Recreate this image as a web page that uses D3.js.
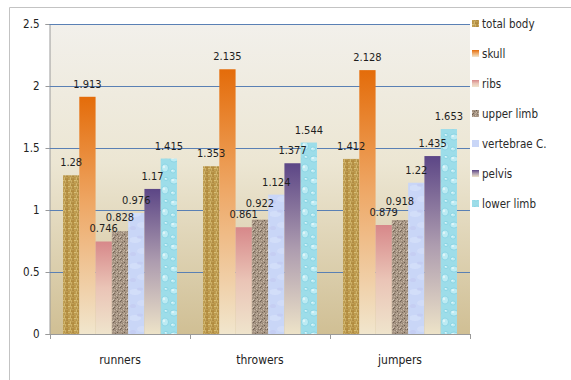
<!DOCTYPE html>
<html>
<head>
<meta charset="utf-8">
<script src="https://cdn.jsdelivr.net/npm/d3@7"></script>
<style>
  html, body { margin: 0; padding: 0; background: #ffffff; }
  svg { display: block; font-family: "DejaVu Sans Condensed", "DejaVu Sans", sans-serif; font-stretch: condensed; }
</style>
</head>
<body>
<svg id="chart" width="571" height="380"></svg>
<script>
// Bone mineral density by athlete group
const categories = ["runners", "throwers", "jumpers"];
const seriesNames = ["total body", "skull", "ribs", "upper limb", "vertebrae C.", "pelvis", "lower limb"];
const runnersValues  = [1.28, 1.913, 0.746, 0.828, 0.976, 1.17, 1.415];
const throwersValues = [1.353, 2.135, 0.861, 0.922, 1.124, 1.377, 1.544];
const jumpersValues  = [1.412, 2.128, 0.879, 0.918, 1.22, 1.435, 1.653];
const yTicks = [0, 0.5, 1, 1.5, 2, 2.5];
const yTickLabels = ["0", "0.5", "1", "1.5", "2", "2.5"];

const valuesByCategory = { runners: runnersValues, throwers: throwersValues, jumpers: jumpersValues };

const svg = d3.select("#chart");
const defs = svg.append("defs");

// ---- fills -------------------------------------------------------------
function vGradient(id, stops) {
  const g = defs.append("linearGradient").attr("id", id)
    .attr("x1", 0).attr("y1", 0).attr("x2", 0).attr("y2", 1);
  stops.forEach(([o, c]) => g.append("stop").attr("offset", o).attr("stop-color", c));
}
vGradient("plotBg", [[0, "#f2f0eb"], [0.45, "#ece6d3"], [1, "#d0bf94"]]);
vGradient("skullFill", [[0, "#e46c0a"], [0.45, "#eea765"], [1, "#f1e6cd"]]);
vGradient("ribsFill", [[0, "#d7888a"], [0.5, "#eac4b6"], [1, "#efe4cc"]]);
vGradient("pelvisFill", [[0, "#5c4686"], [0.5, "#ad9caf"], [1, "#ede3c8"]]);

// woven burlap
const burlap = defs.append("pattern").attr("id", "burlap")
  .attr("patternUnits", "userSpaceOnUse").attr("width", 6).attr("height", 6);
burlap.append("rect").attr("width", 6).attr("height", 6).attr("fill", "#8a6a2e");
[
  [0, 0.2, 2.8, 1.2, "#ecd488"], [0, 1.6, 2.8, 1.2, "#d3ae5a"],
  [3.2, 0, 1.2, 2.8, "#e2c274"], [4.6, 0, 1.2, 2.8, "#c29a48"],
  [0.2, 3.1, 1.2, 2.8, "#cca552"], [1.6, 3.1, 1.2, 2.8, "#e8cc7c"],
  [3.1, 3.3, 2.8, 1.2, "#dcb966"], [3.1, 4.7, 2.8, 1.2, "#b89040"]
].forEach(([x, y, w, h, c]) => burlap.append("rect")
  .attr("x", x).attr("y", y).attr("width", w).attr("height", h).attr("fill", c));

// speckled granite
const granite = defs.append("pattern").attr("id", "granite")
  .attr("patternUnits", "userSpaceOnUse").attr("width", 7).attr("height", 7);
granite.append("rect").attr("width", 7).attr("height", 7).attr("fill", "#a69584");
[
  [0, 0, "#6f6053"], [3, 1, "#cdbdad"], [5, 0, "#857566"], [1, 2, "#c4b3a1"],
  [4, 3, "#675849"], [6, 2, "#b9a896"], [2, 4, "#7d6e60"], [0, 5, "#d2c3b4"],
  [5, 5, "#8a7a6a"], [3, 6, "#bfae9c"], [1, 6, "#726355"], [6, 6, "#d0c0ae"],
  [2, 1, "#918171"], [4, 5, "#c7b6a4"]
].forEach(([x, y, c]) => granite.append("rect")
  .attr("x", x).attr("y", y).attr("width", 1).attr("height", 1).attr("fill", c));

// pale blue marble
const marble = defs.append("pattern").attr("id", "marble")
  .attr("patternUnits", "userSpaceOnUse").attr("width", 16).attr("height", 26);
marble.append("rect").attr("width", 16).attr("height", 26).attr("fill", "#c9d6f7");
marble.append("ellipse").attr("cx", 5).attr("cy", 6).attr("rx", 6).attr("ry", 3).attr("fill", "#d5e0fa").attr("opacity", 0.8);
marble.append("ellipse").attr("cx", 12).attr("cy", 17).attr("rx", 5).attr("ry", 3).attr("fill", "#d3ddf9").attr("opacity", 0.8);
marble.append("ellipse").attr("cx", 10).attr("cy", 3).attr("rx", 3).attr("ry", 1.5).attr("fill", "#c2cbf2").attr("opacity", 0.7);
marble.append("ellipse").attr("cx", 3).attr("cy", 20).attr("rx", 3).attr("ry", 2).attr("fill", "#c4cbf2").attr("opacity", 0.7);

// aqua water texture
const drops = defs.append("pattern").attr("id", "drops")
  .attr("patternUnits", "userSpaceOnUse").attr("width", 17).attr("height", 22);
drops.append("rect").attr("width", 17).attr("height", 22).attr("fill", "#9ddde9");
[
  [5, 5, 4, 3], [13, 14, 3.5, 4], [4, 17, 2.5, 2], [14, 3, 2, 1.6]
].forEach(([cx, cy, rx, ry]) => {
  drops.append("ellipse").attr("cx", cx).attr("cy", cy).attr("rx", rx).attr("ry", ry)
    .attr("fill", "#bdebf3").attr("stroke", "#7fcfe0").attr("stroke-width", 0.7);
  drops.append("ellipse").attr("cx", cx - rx * 0.3).attr("cy", cy - ry * 0.3)
    .attr("rx", rx * 0.35).attr("ry", ry * 0.35).attr("fill", "#dff6fa");
});

const seriesFill = {
  "total body": "url(#burlap)",
  "skull": "url(#skullFill)",
  "ribs": "url(#ribsFill)",
  "upper limb": "url(#granite)",
  "vertebrae C.": "url(#marble)",
  "pelvis": "url(#pelvisFill)",
  "lower limb": "url(#drops)"
};

// ---- scales ------------------------------------------------------------
const plot = { left: 50, right: 470, top: 24, bottom: 334 };
const x0 = d3.scaleBand().domain(categories).range([plot.left, plot.right]).paddingInner(0).paddingOuter(0);
const x1 = d3.scaleBand().domain(seriesNames).range([0, x0.bandwidth()]).paddingInner(0).paddingOuter(0.8);
const y = d3.scaleLinear().domain([0, 2.5]).range([plot.bottom, plot.top]);

// ---- frame & plot background ------------------------------------------
svg.append("path").attr("d", "M9.5,380 V7.5 H571").attr("fill", "none").attr("stroke", "#c3c3c3");
svg.append("rect")
  .attr("x", plot.left).attr("y", plot.top)
  .attr("width", plot.right - plot.left).attr("height", plot.bottom - plot.top)
  .attr("fill", "url(#plotBg)");

// gridlines + y axis
const yAxis = d3.axisLeft(y).tickValues(yTicks)
  .tickFormat((d, i) => yTickLabels[i]).tickSize(4).tickPadding(6);
const gy = svg.append("g").attr("transform", `translate(${plot.left - 0.5},0)`).call(yAxis);
gy.select(".domain").attr("stroke", "#9a9a9a");
gy.selectAll(".tick line").attr("stroke", "#9a9a9a");
gy.selectAll(".tick text").attr("fill", "#222").style("font-size", "11.5px")
  .style("font-family", "'DejaVu Sans Condensed', 'DejaVu Sans', sans-serif");
gy.selectAll(".tick").filter(d => d > 0).append("line")
  .attr("x1", 0).attr("x2", plot.right - plot.left + 0.5)
  .attr("stroke", "#5a80b4").attr("stroke-width", 1);

// ---- bars --------------------------------------------------------------
const groups = svg.append("g").selectAll("g").data(categories).join("g")
  .attr("transform", d => `translate(${x0(d)},0)`);

groups.selectAll("rect")
  .data(c => seriesNames.map((s, i) => ({ series: s, value: valuesByCategory[c][i] })))
  .join("rect")
  .attr("x", d => x1(d.series))
  .attr("y", d => y(d.value))
  .attr("width", x1.bandwidth())
  .attr("height", d => y(0) - y(d.value))
  .attr("fill", d => seriesFill[d.series]);

// value labels sit above each bar; a label that would collide with its
// left neighbour's label is lifted clear of it
groups.each(function (c) {
  const items = seriesNames.map((s, i) => ({ series: s, value: valuesByCategory[c][i] }));
  let prevY = null;
  items.forEach(d => {
    let ly = y(d.value) - 9;
    if (prevY !== null && ly > prevY - 11 && ly < prevY + 9) ly = Math.min(ly, prevY - 11);
    d.labelY = ly;
    prevY = ly;
  });
  d3.select(this).selectAll("text").data(items).join("text")
    .attr("x", d => x1(d.series) + x1.bandwidth() / 2)
    .attr("y", d => d.labelY)
    .attr("text-anchor", "middle")
    .attr("fill", "#1e1e1e")
    .style("font-size", "11px")
    .text(d => String(d.value));
});

// ---- x axis ------------------------------------------------------------
const xAxisLine = svg.append("g");
xAxisLine.append("line")
  .attr("x1", plot.left).attr("x2", plot.right + 0.5)
  .attr("y1", plot.bottom + 0.5).attr("y2", plot.bottom + 0.5)
  .attr("stroke", "#9a9a9a");
xAxisLine.selectAll(".sep").data(categories.concat(["end"])).join("line")
  .attr("class", "sep")
  .attr("x1", (d, i) => Math.round(plot.left + i * x0.bandwidth()) + 0.5)
  .attr("x2", (d, i) => Math.round(plot.left + i * x0.bandwidth()) + 0.5)
  .attr("y1", plot.bottom).attr("y2", plot.bottom + 5)
  .attr("stroke", "#9a9a9a");
svg.append("g").selectAll("text").data(categories).join("text")
  .attr("x", d => x0(d) + x0.bandwidth() / 2)
  .attr("y", 364)
  .attr("text-anchor", "middle")
  .attr("fill", "#222")
  .style("font-size", "12px")
  .text(d => d);

// ---- legend ------------------------------------------------------------
const legend = svg.append("g").selectAll("g").data(seriesNames).join("g")
  .attr("transform", (d, i) => `translate(472,${24 + i * 30})`);
legend.append("rect")
  .attr("x", 0).attr("y", -4).attr("width", 7).attr("height", 7)
  .attr("fill", d => seriesFill[d]);
legend.append("text")
  .attr("x", 10).attr("y", 4)
  .attr("fill", "#2a2a2a")
  .style("font-size", "11.5px")
  .text(d => d);
</script>
</body>
</html>
